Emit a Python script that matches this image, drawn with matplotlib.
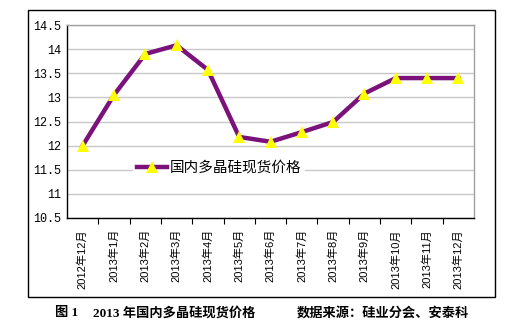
import matplotlib
matplotlib.use("Agg")
import matplotlib.pyplot as plt
from matplotlib.patches import Rectangle
from matplotlib.lines import Line2D

categories = ["2012年12月", "2013年1月", "2013年2月", "2013年3月", "2013年4月",
              "2013年5月", "2013年6月", "2013年7月", "2013年8月", "2013年9月",
              "2013年10月", "2013年11月", "2013年12月"]
prices = [12.0, 13.05, 13.9, 14.08, 13.57, 12.18, 12.08, 12.28, 12.49, 13.08, 13.4, 13.4, 13.4]
yticks = [10.5, 11, 11.5, 12, 12.5, 13, 13.5, 14, 14.5]
ytick_labels = ["10.5", "11", "11.5", "12", "12.5", "13", "13.5", "14", "14.5"]
series_name = "国内多晶硅现货价格"

W, H = 524, 324
fig = plt.figure(figsize=(W / 100, H / 100), dpi=100)
fig.patch.set_facecolor("white")

# outer frame
fig.patches.append(Rectangle((28 / W, 1 - 297 / H), (495 - 28) / W, (297 - 10) / H,
                             transform=fig.transFigure, fill=False,
                             edgecolor="black", linewidth=1.0))

ax = fig.add_axes([67 / W, 1 - 218 / H, (474 - 67) / W, (218 - 25) / H])
x = list(range(len(categories)))
line, = ax.plot(x, prices, color="#7B127B", linewidth=3.2, solid_joinstyle="miter",
                marker="^", markersize=8.5, markerfacecolor="#FFFF00",
                markeredgecolor="#FFFF00", markeredgewidth=0, zorder=3)

ax.set_xlim(-0.5, len(categories) - 0.5)
ax.set_ylim(10.5, 14.5)
ax.set_yticks(yticks)
ax.set_yticklabels(ytick_labels, family=["Liberation Mono"], fontsize=8.5)
ax.tick_params(axis="y", length=0, pad=4)
ax.yaxis.grid(True, color="#C8C8C8", linewidth=1.0)
ax.set_axisbelow(True)

ax.set_xticks([i + 0.5 for i in range(len(categories) - 1)])
ax.set_xticklabels([])
ax.set_xticks(x, minor=True)
ax.set_xticklabels(categories, minor=True, rotation=90,
                   family=["Liberation Sans", "Noto Sans CJK SC"], fontsize=8)
ax.tick_params(axis="x", which="major", length=4, direction="out", color="black")
ax.tick_params(axis="x", which="minor", length=0, pad=8)

for s in ["left", "bottom"]:
    ax.spines[s].set_color("black")
    ax.spines[s].set_linewidth(1.0)
for s in ["top", "right"]:
    ax.spines[s].set_color("#A0A0A0")
    ax.spines[s].set_linewidth(1.0)

handle = Line2D([], [], color="#7B127B", linewidth=3.2, marker="^", markersize=8.5,
                markerfacecolor="#FFFF00", markeredgecolor="#FFFF00", markeredgewidth=0)
leg = fig.legend([handle], [series_name], loc="center left",
                 bbox_to_anchor=(133 / W, 1 - 168 / H),
                 prop={"family": ["Noto Sans CJK SC"], "size": 10.5},
                 frameon=True, fancybox=False, framealpha=1, facecolor="white",
                 edgecolor="none", handlelength=2.0, handletextpad=0.2,
                 borderpad=0.3, borderaxespad=0)

cap_font = ["Liberation Serif", "Noto Sans CJK SC"]
yc = 1 - 313 / H
fig.text(55 / W, yc, "图 1", fontsize=9.5, fontweight="bold", family=cap_font,
         va="center", ha="left")
fig.text(93 / W, yc, "2013 年国内多晶硅现货价格", fontsize=9.5, fontweight="bold",
         family=cap_font, va="center", ha="left")
fig.text(297 / W, yc, "数据来源：硅业分会、安泰科", fontsize=9.5, fontweight="bold",
         family=cap_font, va="center", ha="left")

fig.savefig("out.png", dpi=100)
